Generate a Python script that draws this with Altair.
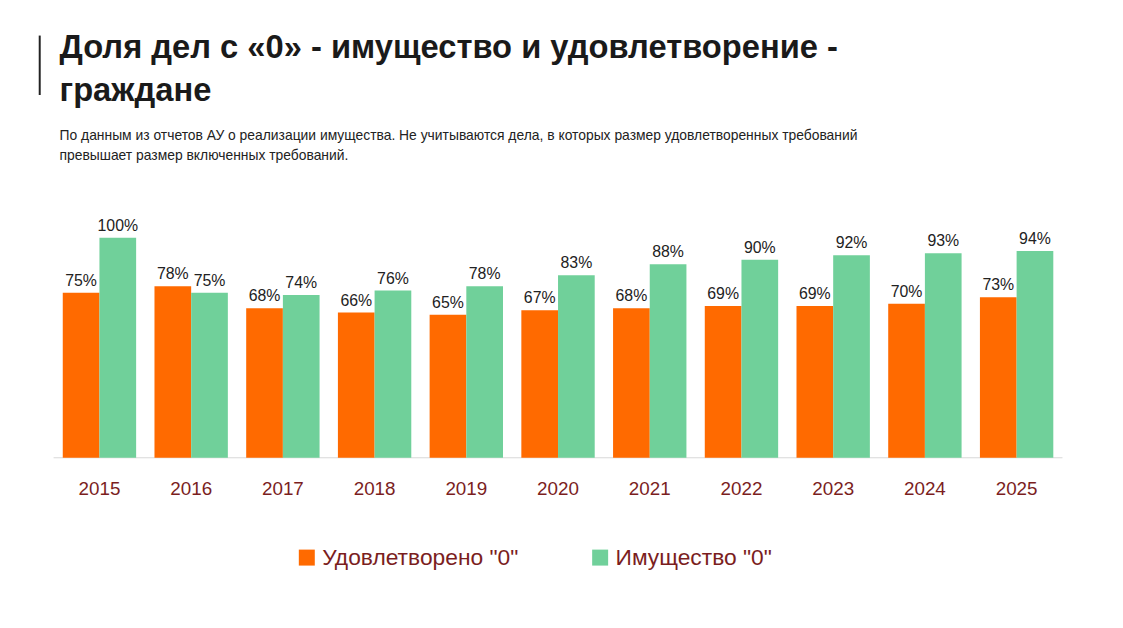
import altair as alt
import pandas as pd

years = [str(y) for y in range(2015, 2026)]
satisfied = [75, 78, 68, 66, 65, 67, 68, 69, 69, 70, 73]
property_ = [100, 75, 74, 76, 78, 83, 88, 90, 92, 93, 94]
series = ['Удовлетворено "0"', 'Имущество "0"']

title_lines = ["Доля дел с «0» - имущество и удовлетворение -", "граждане"]
subtitle_lines = [
    "По данным из отчетов АУ о реализации  имущества. Не учитываются дела, в которых размер удовлетворенных требований",
    "превышает размер включенных требований.",
]

rows = []
for i, y in enumerate(years):
    rows.append({"year": y, "series": series[0], "value": satisfied[i]})
    rows.append({"year": y, "series": series[1], "value": property_[i]})
df = pd.DataFrame(rows)
df["label"] = df["value"].astype(str) + "%"

xscale = alt.Scale(domain=years, range=[41, 1059], paddingInner=0.2, paddingOuter=0.1)
x = alt.X("year:N", scale=xscale, axis=None)
y = alt.Y("value:Q", scale=alt.Scale(domain=[0, 100], range=[446, 224]), axis=None)
xo = alt.XOffset("series:N", sort=series, scale=alt.Scale(paddingInner=0))
color = alt.Color("series:N", sort=series,
                  scale=alt.Scale(domain=series, range=["#FF6A00", "#70D09A"]),
                  legend=alt.Legend(title=None, orient="none", legendX=285, legendY=535,
                                    direction="horizontal", symbolType="square", symbolSize=260,
                                    labelFontSize=23, labelColor="#7B1E1E", columnPadding=70,
                                    labelLimit=400, labelFont="Liberation Sans"))

base = alt.Chart(df).encode(x=x, xOffset=xo)
bars = base.mark_bar().encode(y=y, color=color)
labels = base.mark_text(dy=-12, fontSize=16, color="#222", font="Liberation Sans").encode(
    y=y, text="label:N")

ydf = pd.DataFrame({"year": years})
year_labels = alt.Chart(ydf).mark_text(fontSize=19, color="#7B1E1E", font="Liberation Sans").encode(
    x=x, y=alt.value(478), text="year:N")
domain = alt.Chart(pd.DataFrame({"a": [0]})).mark_rule(color="#d9d9d9").encode(
    x=alt.value(41), x2=alt.value(1059), y=alt.value(446))

tdf = pd.DataFrame({"t": title_lines, "yy": [33, 76]})
title = alt.Chart(tdf).mark_text(align="left", baseline="middle", fontSize=33, fontWeight="bold",
                                 font="Liberation Sans", color="#1a1a1a").encode(
    x=alt.value(47), y=alt.Y("yy:Q", scale=None), text="t:N")
sdf = pd.DataFrame({"t": subtitle_lines, "yy": [121, 142]})
subtitle = alt.Chart(sdf).mark_text(align="left", baseline="middle", fontSize=14,
                                    font="Liberation Sans", color="#222").encode(
    x=alt.value(47), y=alt.Y("yy:Q", scale=None), text="t:N")
bar_line = alt.Chart(pd.DataFrame({"a": [0]})).mark_rule(color="#222", strokeWidth=2).encode(
    x=alt.value(27), y=alt.value(20), y2=alt.value(80))

chart = alt.layer(domain, bars, labels, year_labels, title, subtitle, bar_line).resolve_scale(
    y="independent").properties(
    width=1107, height=612, autosize=alt.AutoSizeParams(type="none"), background="white"
).configure_view(stroke=None)

chart.save("out.html", embed_options={"renderer": "svg", "actions": False})
